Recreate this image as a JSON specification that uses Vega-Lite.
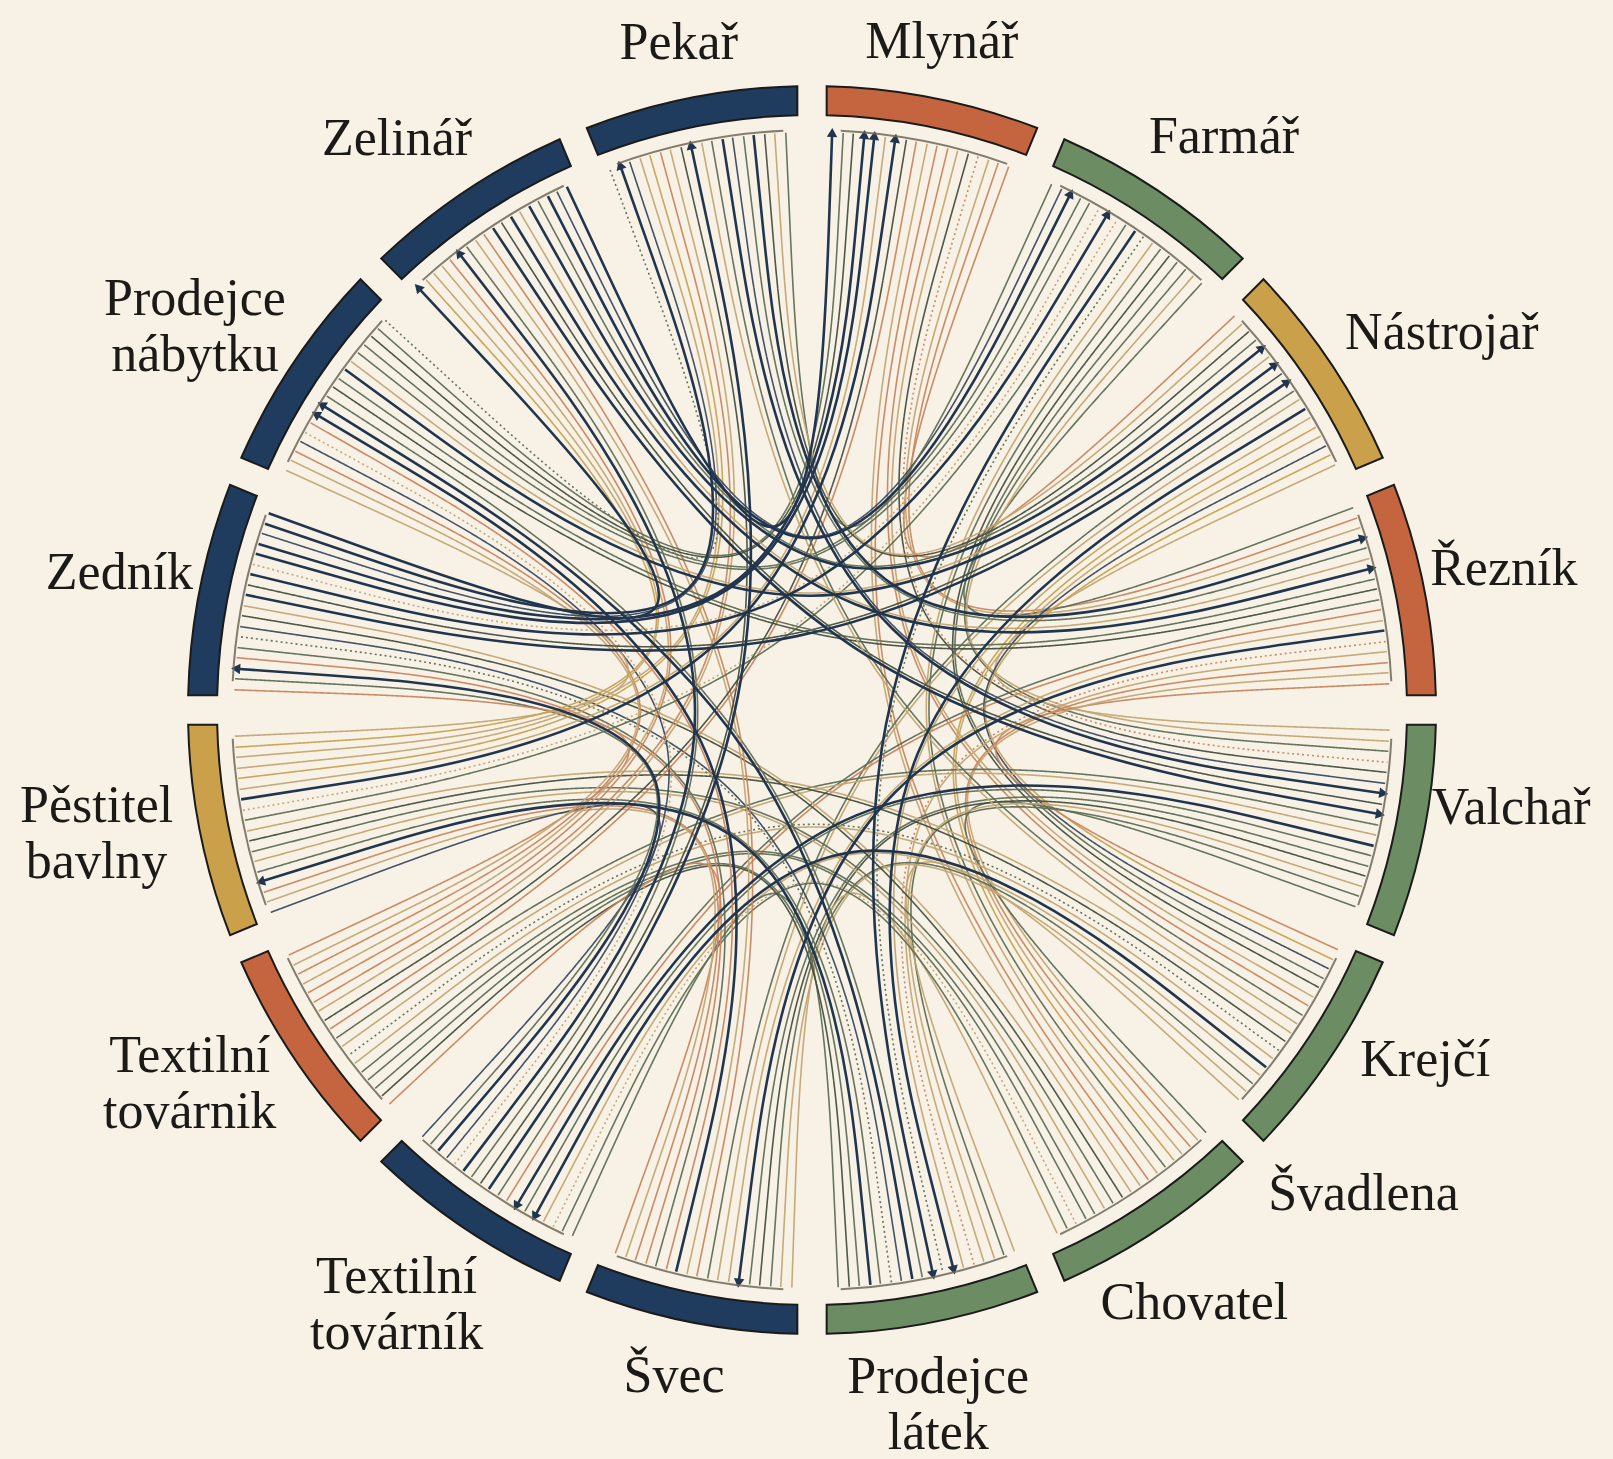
{
  "$schema": "https://vega.github.io/schema/vega-lite/v6.json",
  "width": 1244,
  "height": 1244,
  "autosize": {"type": "none"},
  "padding": {"left": 190, "top": 88, "right": 179, "bottom": 127},
  "background": "#f7f2e5",
  "config": {"view": {"stroke": null}},
  "resolve": {"scale": {"color": "independent"}},
  "datasets": {
    "chords": [
      {"i":0,"a":[19.9,null,47.0],"t":"R"},
      {"i":1,"a":[18.8,null,70.6],"t":"R"},
      {"i":2,"a":[17.8,null,71.6],"t":"K"},
      {"i":3,"a":[16.7,null,95.2],"t":"R","typ":"nepřímá"},
      {"i":4,"a":[15.7,null,96.2],"t":"O"},
      {"i":5,"a":[14.6,null,119.8],"t":"K"},
      {"i":6,"a":[13.6,null,120.8],"t":"R"},
      {"i":7,"a":[12.5,null,144.4],"t":"R"},
      {"i":8,"a":[11.5,null,145.4],"t":"K"},
      {"i":9,"a":[42.4,null,69.5],"t":"G"},
      {"i":10,"a":[41.3,null,93.1],"t":"K"},
      {"i":11,"a":[40.3,null,94.1],"t":"G"},
      {"i":12,"a":[39.2,null,117.7],"t":"G"},
      {"i":13,"a":[38.2,null,118.7],"t":"O"},
      {"i":14,"a":[37.1,null,142.3],"t":"G"},
      {"i":15,"a":[36.1,null,143.3],"t":"K"},
      {"i":16,"a":[35.0,null,166.9],"t":"G","typ":"nepřímá"},
      {"i":17,"a":[34.0,null,167.9],"t":"N"},
      {"i":18,"a":[64.9,null,92.0],"t":"K"},
      {"i":19,"a":[63.8,null,115.6],"t":"Y"},
      {"i":20,"a":[62.8,null,116.6],"t":"n"},
      {"i":21,"a":[61.7,null,140.2],"t":"K"},
      {"i":22,"a":[60.7,null,141.2],"t":"Y"},
      {"i":23,"a":[59.6,null,164.8],"t":"K"},
      {"i":24,"a":[58.6,null,165.8],"t":"N"},
      {"i":25,"a":[57.5,null,189.4],"t":"K"},
      {"i":26,"a":[56.5,null,190.4],"t":"G"},
      {"i":27,"a":[87.4,null,114.5],"t":"R"},
      {"i":28,"a":[86.3,null,138.1],"t":"K"},
      {"i":29,"a":[85.3,null,139.1],"t":"R"},
      {"i":30,"a":[84.2,null,162.7],"t":"K"},
      {"i":31,"a":[83.2,null,163.7],"t":"R","typ":"nepřímá"},
      {"i":32,"a":[82.1,null,187.3],"t":"N"},
      {"i":33,"a":[81.1,null,188.3],"t":"K"},
      {"i":34,"a":[80.0,null,211.9],"t":"R"},
      {"i":35,"a":[79.0,null,212.9],"t":"G"},
      {"i":36,"a":[109.9,null,137.0],"t":"G"},
      {"i":37,"a":[108.8,null,160.6],"t":"G"},
      {"i":38,"a":[107.8,null,161.6],"t":"K"},
      {"i":39,"a":[106.7,null,185.2],"t":"O"},
      {"i":40,"a":[105.7,null,186.2],"t":"G"},
      {"i":41,"a":[104.6,null,209.8],"t":"G"},
      {"i":42,"a":[103.6,null,210.8],"t":"N"},
      {"i":43,"a":[102.5,null,234.4],"t":"K"},
      {"i":44,"a":[101.5,null,235.4],"t":"G"},
      {"i":45,"a":[132.4,null,159.5],"t":"K"},
      {"i":46,"a":[131.3,null,183.1],"t":"K"},
      {"i":47,"a":[130.3,null,184.1],"t":"G"},
      {"i":48,"a":[129.2,null,207.7],"t":"K"},
      {"i":49,"a":[128.2,null,208.7],"t":"N"},
      {"i":50,"a":[127.1,null,232.3],"t":"K"},
      {"i":51,"a":[126.1,null,233.3],"t":"G","typ":"nepřímá"},
      {"i":52,"a":[125.0,null,256.9],"t":"O"},
      {"i":53,"a":[124.0,null,257.9],"t":"K"},
      {"i":54,"a":[154.9,null,182.0],"t":"K"},
      {"i":55,"a":[153.8,null,205.6],"t":"G"},
      {"i":56,"a":[152.8,null,206.6],"t":"K","typ":"nepřímá"},
      {"i":57,"a":[151.7,null,230.2],"t":"G"},
      {"i":58,"a":[150.7,null,231.2],"t":"G"},
      {"i":59,"a":[149.6,null,254.8],"t":"K"},
      {"i":60,"a":[148.6,null,255.8],"t":"G"},
      {"i":61,"a":[147.5,null,279.4],"t":"O"},
      {"i":62,"a":[146.5,null,280.4],"t":"K"},
      {"i":63,"a":[177.4,null,204.5],"t":"G"},
      {"i":64,"a":[176.3,null,228.1],"t":"O"},
      {"i":65,"a":[175.3,null,229.1],"t":"G"},
      {"i":66,"a":[174.2,null,252.7],"t":"N"},
      {"i":67,"a":[173.2,null,253.7],"t":"G"},
      {"i":68,"a":[172.1,null,277.3],"t":"G","typ":"nepřímá"},
      {"i":69,"a":[171.1,null,278.3],"t":"n"},
      {"i":70,"a":[170.0,null,301.9],"t":"N"},
      {"i":71,"a":[169.0,null,302.9],"t":"G"},
      {"i":72,"a":[199.9,null,227.0],"t":"R"},
      {"i":73,"a":[198.8,null,250.6],"t":"K"},
      {"i":74,"a":[197.8,null,251.6],"t":"R"},
      {"i":75,"a":[196.7,null,275.2],"t":"R"},
      {"i":76,"a":[195.7,null,276.2],"t":"G"},
      {"i":77,"a":[194.6,null,299.8],"t":"R"},
      {"i":78,"a":[193.6,null,300.8],"t":"N"},
      {"i":79,"a":[192.5,null,324.4],"t":"K"},
      {"i":80,"a":[191.5,null,325.4],"t":"R"},
      {"i":81,"a":[222.4,null,249.5],"t":"n"},
      {"i":82,"a":[221.3,null,273.1],"t":"G"},
      {"i":83,"a":[220.3,null,274.1],"t":"N"},
      {"i":84,"a":[219.2,null,297.7],"t":"n"},
      {"i":85,"a":[218.2,null,298.7],"t":"K","typ":"nepřímá"},
      {"i":86,"a":[217.1,null,322.3],"t":"N"},
      {"i":87,"a":[216.1,null,323.3],"t":"G"},
      {"i":88,"a":[215.0,null,346.9],"t":"O"},
      {"i":89,"a":[214.0,null,347.9],"t":"N"},
      {"i":90,"a":[244.9,null,272.0],"t":"R"},
      {"i":91,"a":[243.8,null,295.6],"t":"K"},
      {"i":92,"a":[242.8,null,296.6],"t":"R"},
      {"i":93,"a":[241.7,null,320.2],"t":"K"},
      {"i":94,"a":[240.7,null,321.2],"t":"R"},
      {"i":95,"a":[239.6,null,344.8],"t":"R"},
      {"i":96,"a":[238.6,null,345.8],"t":"K"},
      {"i":97,"a":[237.5,null,9.4],"t":"O"},
      {"i":98,"a":[236.5,null,10.4],"t":"R"},
      {"i":99,"a":[267.4,null,294.5],"t":"K"},
      {"i":100,"a":[266.3,null,318.1],"t":"Y"},
      {"i":101,"a":[265.3,null,319.1],"t":"K"},
      {"i":102,"a":[264.2,null,342.7],"t":"K"},
      {"i":103,"a":[263.2,null,343.7],"t":"Y"},
      {"i":104,"a":[262.1,null,7.3],"t":"K"},
      {"i":105,"a":[261.1,null,8.3],"t":"N"},
      {"i":106,"a":[260.0,null,31.9],"t":"K","typ":"nepřímá"},
      {"i":107,"a":[259.0,null,32.9],"t":"G"},
      {"i":108,"a":[289.9,null,317.0],"t":"N"},
      {"i":109,"a":[288.8,null,340.6],"t":"N"},
      {"i":110,"a":[287.8,null,341.6],"t":"n"},
      {"i":111,"a":[286.7,null,5.2],"t":"N"},
      {"i":112,"a":[285.7,null,6.2],"t":"N"},
      {"i":113,"a":[284.6,null,29.8],"t":"K","typ":"nepřímá"},
      {"i":114,"a":[283.6,null,30.8],"t":"N"},
      {"i":115,"a":[282.5,null,54.4],"t":"O"},
      {"i":116,"a":[281.5,null,55.4],"t":"N"},
      {"i":117,"a":[312.4,null,339.5],"t":"G","typ":"nepřímá"},
      {"i":118,"a":[311.3,null,3.1],"t":"G"},
      {"i":119,"a":[310.3,null,4.1],"t":"O"},
      {"i":120,"a":[309.2,null,27.7],"t":"G"},
      {"i":121,"a":[308.2,null,28.7],"t":"G"},
      {"i":122,"a":[307.1,null,52.3],"t":"K"},
      {"i":123,"a":[306.1,null,53.3],"t":"N"},
      {"i":124,"a":[305.0,null,76.9],"t":"G"},
      {"i":125,"a":[304.0,null,77.9],"t":"O"},
      {"i":126,"a":[334.9,null,2.0],"t":"N"},
      {"i":127,"a":[333.8,null,25.6],"t":"n"},
      {"i":128,"a":[332.8,null,26.6],"t":"N"},
      {"i":129,"a":[331.7,null,50.2],"t":"G"},
      {"i":130,"a":[330.7,null,51.2],"t":"N"},
      {"i":131,"a":[329.6,null,74.8],"t":"K"},
      {"i":132,"a":[328.6,null,75.8],"t":"N"},
      {"i":133,"a":[327.5,null,99.4],"t":"O"},
      {"i":134,"a":[326.5,null,100.4],"t":"N"},
      {"i":135,"a":[357.4,null,24.5],"t":"G"},
      {"i":136,"a":[356.3,null,48.1],"t":"K"},
      {"i":137,"a":[355.3,null,49.1],"t":"O"},
      {"i":138,"a":[354.2,null,72.7],"t":"N"},
      {"i":139,"a":[353.2,null,73.7],"t":"G"},
      {"i":140,"a":[352.1,null,97.3],"t":"n"},
      {"i":141,"a":[351.1,null,98.3],"t":"N"},
      {"i":142,"a":[350.0,null,121.9],"t":"G"},
      {"i":143,"a":[349.0,null,122.9],"t":"K"}
    ],
    "seg": [
      {"n":"Mlynář","f":"rust","t0":0,"t1":22.5},
      {"n":"Farmář","f":"sage","t0":22.5,"t1":45},
      {"n":"Nástrojař","f":"gold","t0":45,"t1":67.5},
      {"n":"Řezník","f":"rust","t0":67.5,"t1":90},
      {"n":"Valchař","f":"sage","t0":90,"t1":112.5},
      {"n":"Krejčí","f":"sage","t0":112.5,"t1":135},
      {"n":"Švadlena / Chovatel","f":"sage","t0":135,"t1":157.5},
      {"n":"Prodejce látek","f":"sage","t0":157.5,"t1":180},
      {"n":"Švec","f":"navy","t0":180,"t1":202.5},
      {"n":"Textilní továrník","f":"navy","t0":202.5,"t1":225},
      {"n":"Textilní továrnik","f":"rust","t0":225,"t1":247.5},
      {"n":"Pěstitel bavlny","f":"gold","t0":247.5,"t1":270},
      {"n":"Zedník","f":"navy","t0":270,"t1":292.5},
      {"n":"Prodejce nábytku","f":"navy","t0":292.5,"t1":315},
      {"n":"Zelinář","f":"navy","t0":315,"t1":337.5},
      {"n":"Pekař","f":"navy","t0":337.5,"t1":360}
    ],
    "lab": [
      {"n":"Mlynář","u":11},
      {"n":"Farmář","u":35.7},
      {"n":"Nástrojař","u":59.1},
      {"n":"Řezník","u":78.5},
      {"n":"Valchař","u":98},
      {"n":"Krejčí","u":119.7},
      {"n":"Švadlena","u":131.3},
      {"n":"Chovatel","u":147.2},
      {"n":"Prodejce\nlátek","u":169.7},
      {"n":"Švec","u":191.7},
      {"n":"Textilní\ntovárník","u":214.9},
      {"n":"Textilní\ntovárnik","u":239},
      {"n":"Pěstitel\nbavlny","u":260.2},
      {"n":"Zedník","u":281.2},
      {"n":"Prodejce\nnábytku","u":301.8},
      {"n":"Zelinář","u":324},
      {"n":"Pekař","u":348.7}
    ]
  },
  "layer": [
    {
      "data": {"name": "chords"},
      "transform": [
        {"flatten": ["a"]},
        {"window": [{"op": "row_number", "as": "o"}], "groupby": ["i"]},
        {"calculate": "isValid(datum.a) ? 0.929*sin(datum.a*PI/180) : 0", "as": "x"},
        {"calculate": "isValid(datum.a) ? 0.929*cos(datum.a*PI/180) : 0", "as": "y"},
        {"filter": "datum.t !== 'N'"}
      ],
      "mark": {"type": "line", "interpolate": "basis", "strokeWidth": 1.6, "opacity": 0.95},
      "encoding": {
        "x": {"field": "x", "type": "quantitative", "scale": {"domain": [-1, 1], "nice": false, "zero": false}, "axis": null},
        "y": {"field": "y", "type": "quantitative", "scale": {"domain": [-1, 1], "nice": false, "zero": false}, "axis": null},
        "detail": {"field": "i"},
        "order": {"field": "o"},
        "color": {"field": "t", "type": "nominal", "legend": null,
          "scale": {"domain": ["N","n","G","O","K","R","Y"], "range": ["#243a58","#3a4a60","#5f6e56","#454f3f","#c2a574","#c9855f","#c7a252"]}},
        "strokeDash": {"condition": {"test": "datum.typ === 'nepřímá'", "value": [2, 3]}, "value": [1, 0]}
      }
    },
    {
      "data": {"name": "chords"},
      "transform": [
        {"flatten": ["a"]},
        {"window": [{"op": "row_number", "as": "o"}], "groupby": ["i"]},
        {"calculate": "isValid(datum.a) ? 0.929*sin(datum.a*PI/180) : 0", "as": "x"},
        {"calculate": "isValid(datum.a) ? 0.929*cos(datum.a*PI/180) : 0", "as": "y"},
        {"filter": "datum.t === 'N'"}
      ],
      "mark": {"type": "line", "interpolate": "basis", "strokeWidth": 2.6, "color": "#22354f"},
      "encoding": {
        "x": {"field": "x", "type": "quantitative", "scale": {"domain": [-1, 1], "nice": false, "zero": false}, "axis": null},
        "y": {"field": "y", "type": "quantitative", "scale": {"domain": [-1, 1], "nice": false, "zero": false}, "axis": null},
        "detail": {"field": "i"},
        "order": {"field": "o"}
      }
    },
    {
      "data": {"name": "chords"},
      "transform": [
        {"flatten": ["a"]},
        {"window": [{"op": "row_number", "as": "o"}], "groupby": ["i"]},
        {"calculate": "isValid(datum.a) ? 0.929*sin(datum.a*PI/180) : 0", "as": "x"},
        {"calculate": "isValid(datum.a) ? 0.929*cos(datum.a*PI/180) : 0", "as": "y"},
        {"filter": "datum.o === 3 && datum.t === 'N'"}
      ],
      "mark": {"type": "point", "shape": "triangle-up", "filled": true, "size": 110, "opacity": 1, "color": "#22354f"},
      "encoding": {
        "x": {"field": "x", "type": "quantitative", "scale": {"domain": [-1, 1], "nice": false, "zero": false}, "axis": null},
        "y": {"field": "y", "type": "quantitative", "scale": {"domain": [-1, 1], "nice": false, "zero": false}, "axis": null},
        "angle": {"field": "a", "type": "quantitative", "scale": {"domain": [0, 360], "range": [0, 360]}}
      }
    },
    {
      "data": {"name": "seg"},
      "mark": {"type": "arc", "radius": 581, "radius2": 579, "padAngle": 0.07, "color": "#6f6858", "opacity": 0.85},
      "encoding": {
        "theta": {"field": "t0", "type": "quantitative", "scale": {"domain": [0, 360]}, "stack": null},
        "theta2": {"field": "t1"}
      }
    },
    {
      "data": {"name": "seg"},
      "mark": {"type": "arc", "radius": 624, "radius2": 595, "padAngle": 0.034, "stroke": "#1b1b1b", "strokeWidth": 2},
      "encoding": {
        "theta": {"field": "t0", "type": "quantitative", "scale": {"domain": [0, 360]}, "stack": null},
        "theta2": {"field": "t1"},
        "color": {"field": "f", "type": "nominal", "legend": null,
          "scale": {"domain": ["navy","rust","sage","gold"], "range": ["#1f3b5e","#c5653f","#6c8c63","#caa14a"]}}
      }
    },
    {
      "data": {"name": "lab"},
      "transform": [{"filter": {"field": "n", "oneOf": ["Pekař", "Mlynář", "Švec"]}}],
      "mark": {"type": "text", "radius": 680, "font": "Liberation Serif", "fontSize": 52, "align": "center", "baseline": "middle", "color": "#1c1a17"},
      "encoding": {
        "theta": {"field": "u", "type": "quantitative", "scale": {"domain": [0, 360]}, "stack": null},
        "text": {"field": "n"}
      }
    },
    {
      "data": {"name": "lab"},
      "transform": [{"filter": {"field": "n", "oneOf": ["Farmář", "Řezník", "Valchař", "Krejčí", "Chovatel", "Zelinář", "Zedník"]}}],
      "mark": {"type": "text", "radius": 706, "font": "Liberation Serif", "fontSize": 52, "align": "center", "baseline": "middle", "color": "#1c1a17"},
      "encoding": {
        "theta": {"field": "u", "type": "quantitative", "scale": {"domain": [0, 360]}, "stack": null},
        "text": {"field": "n"}
      }
    },
    {
      "data": {"name": "lab"},
      "transform": [{"filter": {"field": "n", "oneOf": ["Nástrojař", "Švadlena"]}}],
      "mark": {"type": "text", "radius": 734, "font": "Liberation Serif", "fontSize": 52, "align": "center", "baseline": "middle", "color": "#1c1a17"},
      "encoding": {
        "theta": {"field": "u", "type": "quantitative", "scale": {"domain": [0, 360]}, "stack": null},
        "text": {"field": "n"}
      }
    },
    {
      "data": {"name": "lab"},
      "transform": [{"filter": {"field": "n", "oneOf": ["Textilní\ntovárník", "Textilní\ntovárnik", "Pěstitel\nbavlny", "Prodejce\nnábytku"]}}],
      "mark": {"type": "text", "radius": 726, "dy": -28, "font": "Liberation Serif", "fontSize": 52, "lineBreak": "\n", "lineHeight": 56, "align": "center", "baseline": "middle", "color": "#1c1a17"},
      "encoding": {
        "theta": {"field": "u", "type": "quantitative", "scale": {"domain": [0, 360]}, "stack": null},
        "text": {"field": "n"}
      }
    },
    {
      "data": {"name": "lab"},
      "transform": [{"filter": {"field": "n", "oneOf": ["Prodejce\nlátek"]}}],
      "mark": {"type": "text", "radius": 706, "dy": -28, "font": "Liberation Serif", "fontSize": 52, "lineBreak": "\n", "lineHeight": 56, "align": "center", "baseline": "middle", "color": "#1c1a17"},
      "encoding": {
        "theta": {"field": "u", "type": "quantitative", "scale": {"domain": [0, 360]}, "stack": null},
        "text": {"field": "n"}
      }
    }
  ]
}
